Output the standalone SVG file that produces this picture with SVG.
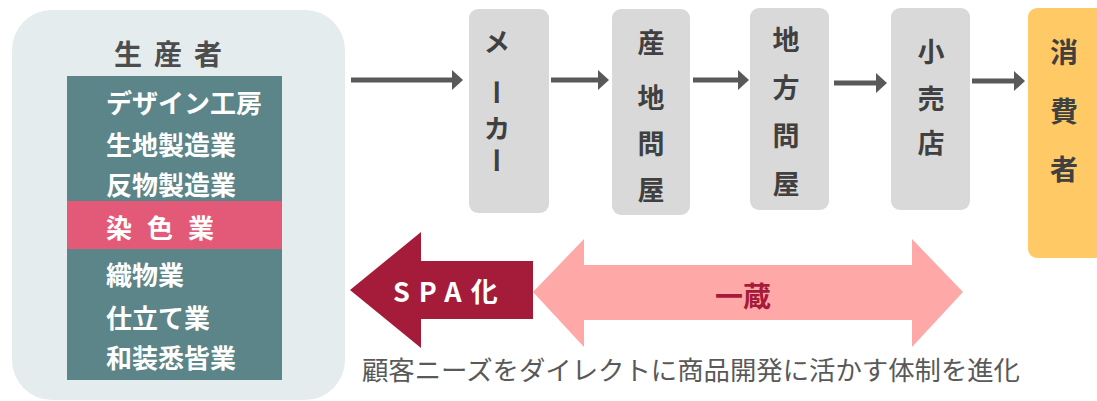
<svg xmlns="http://www.w3.org/2000/svg" width="1097" height="401" viewBox="0 0 1097 401">
<defs>
<style>
text{font-family:"Noto Sans CJK JP","Noto Sans",sans-serif;}
.lbl{font-size:26px;font-weight:700;fill:#ffffff;}
.vt{writing-mode:vertical-rl;font-size:27px;font-weight:700;fill:#404040;}
.box{fill:#d9d9d9;}
.conn{stroke:#595959;stroke-width:5;fill:none;marker-end:url(#ah);}
</style>
<marker id="ah" markerUnits="userSpaceOnUse" markerWidth="11" markerHeight="20" refX="1" refY="10" orient="auto">
<path d="M0,0 L11,10 L0,20 Z" fill="#595959"/>
</marker>
</defs>
<rect width="1097" height="401" fill="#ffffff"/>

<g id="producer">
<rect x="12" y="10" width="333" height="390" rx="40" fill="#e4ecee"/>
<text x="174" y="65" text-anchor="middle" font-size="28" font-weight="700" fill="#4d4d4d" letter-spacing="12">生産者</text>
<rect x="67" y="76" width="215" height="304" fill="#5b8589"/>
<rect x="67" y="201" width="215" height="48" fill="#e35a78"/>
<text class="lbl" x="106" y="113">デザイン工房</text>
<text class="lbl" x="106" y="155">生地製造業</text>
<text class="lbl" x="106" y="195">反物製造業</text>
<text class="lbl" x="106" y="238" letter-spacing="15">染色業</text>
<text class="lbl" x="106" y="285">織物業</text>
<text class="lbl" x="106" y="328">仕立て業</text>
<text class="lbl" x="106" y="368" font-size="24">和装悉皆業</text>
</g>

<g id="maker">
<rect class="box" x="469" y="9" width="80" height="204" rx="9"/>
<text class="vt" x="497"><tspan x="497" y="28">メ</tspan><tspan x="497" y="79">ー</tspan><tspan x="497" y="115">カ</tspan><tspan x="497" y="147">ー</tspan></text>
</g>

<g id="sanchi">
<rect class="box" x="612" y="9" width="78" height="206" rx="9"/>
<text class="vt" x="651"><tspan x="651" y="29">産</tspan><tspan x="651" y="84">地</tspan><tspan x="651" y="130">問</tspan><tspan x="651" y="176">屋</tspan></text>
</g>

<g id="chihou">
<rect class="box" x="750" y="8" width="79" height="202" rx="9"/>
<text class="vt" x="786"><tspan x="786" y="26">地</tspan><tspan x="786" y="74">方</tspan><tspan x="786" y="122">問</tspan><tspan x="786" y="170">屋</tspan></text>
</g>

<g id="retail">
<rect class="box" x="891" y="8" width="79" height="202" rx="9"/>
<text class="vt" x="931"><tspan x="931" y="38">小</tspan><tspan x="931" y="85">売</tspan><tspan x="931" y="129">店</tspan></text>
</g>

<g id="consumer">
<rect x="1028" y="8" width="90" height="250" rx="9" fill="#ffca66"/>
<text class="vt" x="1064" style="font-size:28px"><tspan x="1064" y="38">消</tspan><tspan x="1064" y="97">費</tspan><tspan x="1064" y="155">者</tspan></text>
</g>

<g id="connectors">
<line class="conn" x1="351" y1="80" x2="453" y2="80"/>
<line class="conn" x1="551" y1="80" x2="599" y2="80"/>
<line class="conn" x1="693" y1="80" x2="739" y2="80"/>
<line class="conn" x1="834" y1="83" x2="877" y2="83"/>
<line class="conn" x1="972" y1="81" x2="1015" y2="81"/>
</g>

<g id="spa">
<polygon points="350,290 421,232 421,261 533,261 533,319 421,319 421,348" fill="#a51c3a"/>
<text x="393" y="302" font-size="27" font-weight="700" fill="#ffffff" letter-spacing="9">SPA化</text>
</g>

<g id="ichizo">
<polygon points="533,292 584,239 584,265 912,265 912,320 584,320 584,347 533,292" fill="#ffa8a8"/>
<polygon points="912,239 963,292 912,347" fill="#ffa8a8"/>
<text x="743" y="307" text-anchor="middle" font-size="28" font-weight="700" fill="#a51c3a">一蔵</text>
</g>

<text x="362" y="380" font-size="26" fill="#595959" textLength="658" lengthAdjust="spacingAndGlyphs">顧客ニーズをダイレクトに商品開発に活かす体制を進化</text>
</svg>
